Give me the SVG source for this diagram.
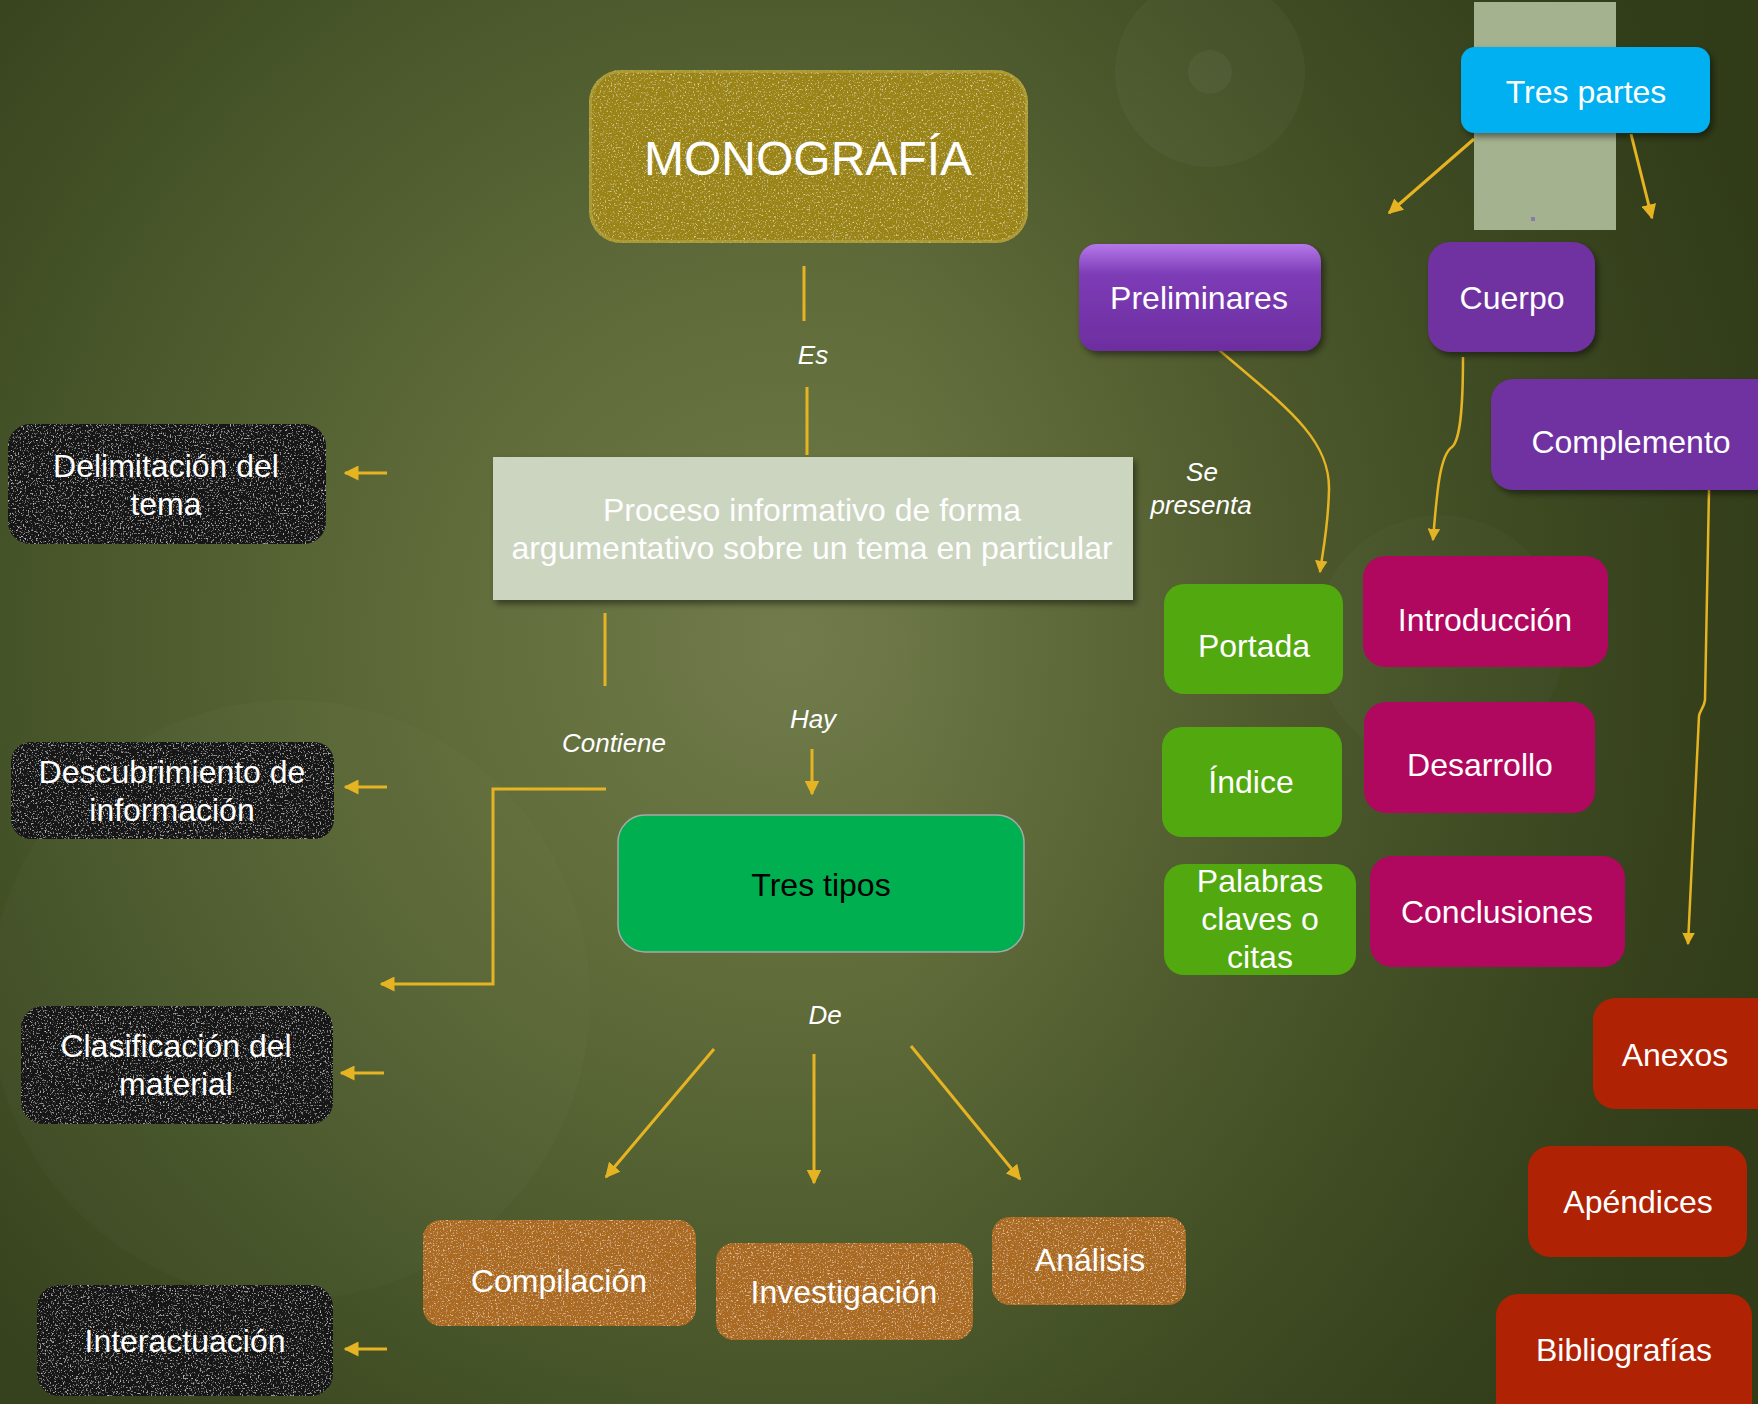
<svg xmlns="http://www.w3.org/2000/svg" width="1758" height="1404" viewBox="0 0 1758 1404">
<defs>
<radialGradient id="bg" cx="790" cy="640" r="1050" gradientUnits="userSpaceOnUse">
<stop offset="0" stop-color="#717b4b"/>
<stop offset="0.35" stop-color="#5f6b39"/>
<stop offset="0.7" stop-color="#48562a"/>
<stop offset="1" stop-color="#36421d"/>
</radialGradient>
<linearGradient id="rightDark" x1="0" y1="0" x2="1" y2="0">
<stop offset="0" stop-color="#2a3312" stop-opacity="0"/>
<stop offset="1" stop-color="#2a3312" stop-opacity="0.45"/>
</linearGradient>
<linearGradient id="gloss" x1="0" y1="0" x2="0" y2="1">
<stop offset="0" stop-color="#b578ea"/>
<stop offset="0.28" stop-color="#7d3cb6"/>
<stop offset="1" stop-color="#6d2ea0"/>
</linearGradient>
<filter id="shadow" x="-10%" y="-10%" width="125%" height="130%">
<feDropShadow dx="3" dy="4" stdDeviation="3" flood-color="#000" flood-opacity="0.45"/>
</filter>
<filter id="chalk" x="0" y="0" width="100%" height="100%">
<feTurbulence type="fractalNoise" baseFrequency="0.6" numOctaves="3" seed="3" result="n"/>
<feColorMatrix in="n" type="matrix" values="0 0 0 0 0.7  0 0 0 0 0.7  0 0 0 0 0.7  0 0 0 3 -1.75" result="spk"/>
<feComposite in="spk" in2="SourceGraphic" operator="in" result="spk2"/>
<feMerge><feMergeNode in="SourceGraphic"/><feMergeNode in="spk2"/></feMerge>
</filter>
<filter id="cork" x="0" y="0" width="100%" height="100%">
<feTurbulence type="fractalNoise" baseFrequency="0.6" numOctaves="3" seed="7" result="n"/>
<feColorMatrix in="n" type="matrix" values="0 0 0 0 0.88  0 0 0 0 0.66  0 0 0 0 0.4  0 0 0 3 -1.7" result="spk"/>
<feComposite in="spk" in2="SourceGraphic" operator="in" result="spk2"/>
<feMerge><feMergeNode in="SourceGraphic"/><feMergeNode in="spk2"/></feMerge>
</filter>
<filter id="gold" x="0" y="0" width="100%" height="100%">
<feTurbulence type="fractalNoise" baseFrequency="0.55" numOctaves="3" seed="11" result="n"/>
<feColorMatrix in="n" type="matrix" values="0 0 0 0 0.8  0 0 0 0 0.72  0 0 0 0 0.35  0 0 0 3 -1.7" result="spk"/>
<feComposite in="spk" in2="SourceGraphic" operator="in" result="spk2"/>
<feMerge><feMergeNode in="SourceGraphic"/><feMergeNode in="spk2"/></feMerge>
</filter>
<marker id="ah" viewBox="0 0 10 10" refX="9" refY="5" markerWidth="5" markerHeight="5" orient="auto" markerUnits="strokeWidth">
<path d="M0,0 L10,5 L0,10 z" fill="#e6b422"/>
</marker>
<style>
.t{font-family:"Liberation Sans",Arial,sans-serif;fill:#ffffff;font-size:32px;text-anchor:middle}
.lbl{font-family:"Liberation Sans",Arial,sans-serif;fill:#ffffff;font-size:26px;font-style:italic;text-anchor:middle}
.ln{fill:none;stroke:#e6b422;stroke-width:3}
.arr{fill:none;stroke:#e6b422;stroke-width:3;marker-end:url(#ah)}
.blk{fill:#161615}
.brn{fill:#aa6a22}
.grn{fill:#52a80f}
.mag{fill:#b0085e}
.red{fill:#b02204}
.pur{fill:#7030a0}
</style>
</defs>

<g id="background">
<rect x="0" y="0" width="1758" height="1404" fill="url(#bg)"/>
<rect x="900" y="0" width="858" height="1404" fill="url(#rightDark)"/>
<circle cx="1210" cy="72" r="95" fill="#ffffff" fill-opacity="0.03"/>
<circle cx="1210" cy="72" r="22" fill="#ffffff" fill-opacity="0.04"/>
<circle cx="290" cy="1000" r="300" fill="#ffffff" fill-opacity="0.02"/>
<circle cx="1440" cy="640" r="125" fill="#ffffff" fill-opacity="0.02"/>
<rect x="1474" y="2" width="142" height="228" fill="#a4b290"/>
<rect x="1531" y="217" width="4" height="4" fill="#8a7ab0"/>
</g>

<g id="connectors">
<line class="ln" x1="804" y1="266" x2="804" y2="321"/>
<line class="ln" x1="807" y1="387" x2="807" y2="455"/>
<line class="ln" x1="605" y1="613" x2="605" y2="686"/>
<path class="arr" d="M606,789 L493,789 L493,984 L381,984"/>
<line class="arr" x1="812" y1="749" x2="812" y2="794"/>
<line class="arr" x1="714" y1="1049" x2="606" y2="1177"/>
<line class="arr" x1="814" y1="1054" x2="814" y2="1183"/>
<line class="arr" x1="911" y1="1046" x2="1020" y2="1179"/>
<line class="arr" x1="387" y1="473" x2="345" y2="473"/>
<line class="arr" x1="387" y1="787" x2="345" y2="787"/>
<line class="arr" x1="384" y1="1073" x2="341" y2="1073"/>
<line class="arr" x1="387" y1="1349" x2="345" y2="1349"/>
<line class="arr" x1="1474" y1="139" x2="1389" y2="213"/>
<line class="arr" x1="1631" y1="134" x2="1652" y2="218"/>
<path class="arr" style="stroke-width:2.5" d="M1219,350 C1290,410 1330,440 1329,490 C1328,530 1322,555 1320,572"/>
<path class="arr" style="stroke-width:2.5" d="M1463,357 C1463,410 1460,440 1452,447 C1440,455 1437,490 1433,540"/>
<path class="arr" style="stroke-width:2.5" d="M1709,490 L1705,700 C1704,708 1700,710 1699,716 L1688,944"/>
<text class="lbl" x="813" y="364">Es</text>
<text class="lbl" x="614" y="752">Contiene</text>
<text class="lbl" x="813" y="728">Hay</text>
<text class="lbl" x="825" y="1024">De</text>
<text class="lbl" x="1202" y="481">Se</text>
<text class="lbl" x="1201" y="514">presenta</text>
</g>

<g id="n-monografia">
<rect x="589" y="70" width="439" height="173" rx="32" fill="#9a8418" filter="url(#gold)"/>
<rect x="590.5" y="71.5" width="436" height="170" rx="31" fill="none" stroke="#b8a64a" stroke-width="3" stroke-opacity="0.6"/>
<text class="t" x="808" y="175" style="font-size:48px">MONOGRAFÍA</text>
</g>

<g id="n-proceso">
<rect x="493" y="457" width="640" height="143" fill="#ccd5c0" filter="url(#shadow)"/>
<text class="t" x="812" y="521">Proceso informativo de forma</text>
<text class="t" x="812" y="559">argumentativo sobre un tema en particular</text>
</g>

<g id="n-delimitacion">
<rect class="blk" x="8" y="424" width="318" height="120" rx="22" filter="url(#chalk)"/>
<text class="t" x="166" y="477">Delimitación del</text>
<text class="t" x="166" y="515">tema</text>
</g>
<g id="n-descubrimiento">
<rect class="blk" x="11" y="742" width="323" height="97" rx="20" filter="url(#chalk)"/>
<text class="t" x="172" y="783">Descubrimiento de</text>
<text class="t" x="172" y="821">información</text>
</g>
<g id="n-clasificacion">
<rect class="blk" x="21" y="1006" width="312" height="118" rx="22" filter="url(#chalk)"/>
<text class="t" x="176" y="1057">Clasificación del</text>
<text class="t" x="176" y="1095">material</text>
</g>
<g id="n-interactuacion">
<rect class="blk" x="37" y="1285" width="296" height="111" rx="22" filter="url(#chalk)"/>
<text class="t" x="185" y="1352">Interactuación</text>
</g>

<g id="n-trestipos">
<rect x="618" y="815" width="406" height="137" rx="27" fill="#00b050" stroke="#a8a8a8" stroke-width="1.5"/>
<text class="t" x="821" y="896" style="fill:#000000">Tres tipos</text>
</g>

<g id="n-compilacion">
<rect class="brn" x="423" y="1220" width="273" height="106" rx="18" filter="url(#cork)"/>
<text class="t" x="559" y="1292">Compilación</text>
</g>
<g id="n-investigacion">
<rect class="brn" x="716" y="1243" width="257" height="97" rx="18" filter="url(#cork)"/>
<text class="t" x="844" y="1303">Investigación</text>
</g>
<g id="n-analisis">
<rect class="brn" x="992" y="1217" width="194" height="88" rx="18" filter="url(#cork)"/>
<text class="t" x="1090" y="1271">Análisis</text>
</g>

<g id="n-trespartes">
<rect x="1461" y="47" width="249" height="86" rx="14" fill="#00b0f0" filter="url(#shadow)"/>
<text class="t" x="1586" y="103">Tres partes</text>
</g>
<g id="n-preliminares">
<rect x="1079" y="244" width="242" height="107" rx="18" fill="url(#gloss)" filter="url(#shadow)"/>
<text class="t" x="1199" y="309">Preliminares</text>
</g>
<g id="n-cuerpo">
<rect class="pur" x="1428" y="242" width="167" height="110" rx="22" filter="url(#shadow)"/>
<text class="t" x="1512" y="309">Cuerpo</text>
</g>
<g id="n-complemento">
<rect class="pur" x="1491" y="379" width="290" height="111" rx="22" filter="url(#shadow)"/>
<text class="t" x="1631" y="453">Complemento</text>
</g>

<g id="n-portada">
<rect class="grn" x="1164" y="584" width="179" height="110" rx="20"/>
<text class="t" x="1254" y="657">Portada</text>
</g>
<g id="n-indice">
<rect class="grn" x="1162" y="727" width="180" height="110" rx="20"/>
<text class="t" x="1251" y="793">Índice</text>
</g>
<g id="n-palabras">
<rect class="grn" x="1164" y="864" width="192" height="111" rx="20"/>
<text class="t" x="1260" y="892">Palabras</text>
<text class="t" x="1260" y="930">claves o</text>
<text class="t" x="1260" y="968">citas</text>
</g>

<g id="n-introduccion">
<rect class="mag" x="1363" y="556" width="245" height="111" rx="22"/>
<text class="t" x="1485" y="631">Introducción</text>
</g>
<g id="n-desarrollo">
<rect class="mag" x="1364" y="702" width="231" height="111" rx="22"/>
<text class="t" x="1480" y="776">Desarrollo</text>
</g>
<g id="n-conclusiones">
<rect class="mag" x="1370" y="856" width="255" height="111" rx="22"/>
<text class="t" x="1497" y="923">Conclusiones</text>
</g>

<g id="n-anexos">
<rect class="red" x="1593" y="998" width="190" height="111" rx="22"/>
<text class="t" x="1675" y="1066">Anexos</text>
</g>
<g id="n-apendices">
<rect class="red" x="1528" y="1146" width="219" height="111" rx="22"/>
<text class="t" x="1638" y="1213">Apéndices</text>
</g>
<g id="n-bibliografias">
<rect class="red" x="1496" y="1294" width="256" height="140" rx="22"/>
<text class="t" x="1624" y="1361">Bibliografías</text>
</g>
</svg>
